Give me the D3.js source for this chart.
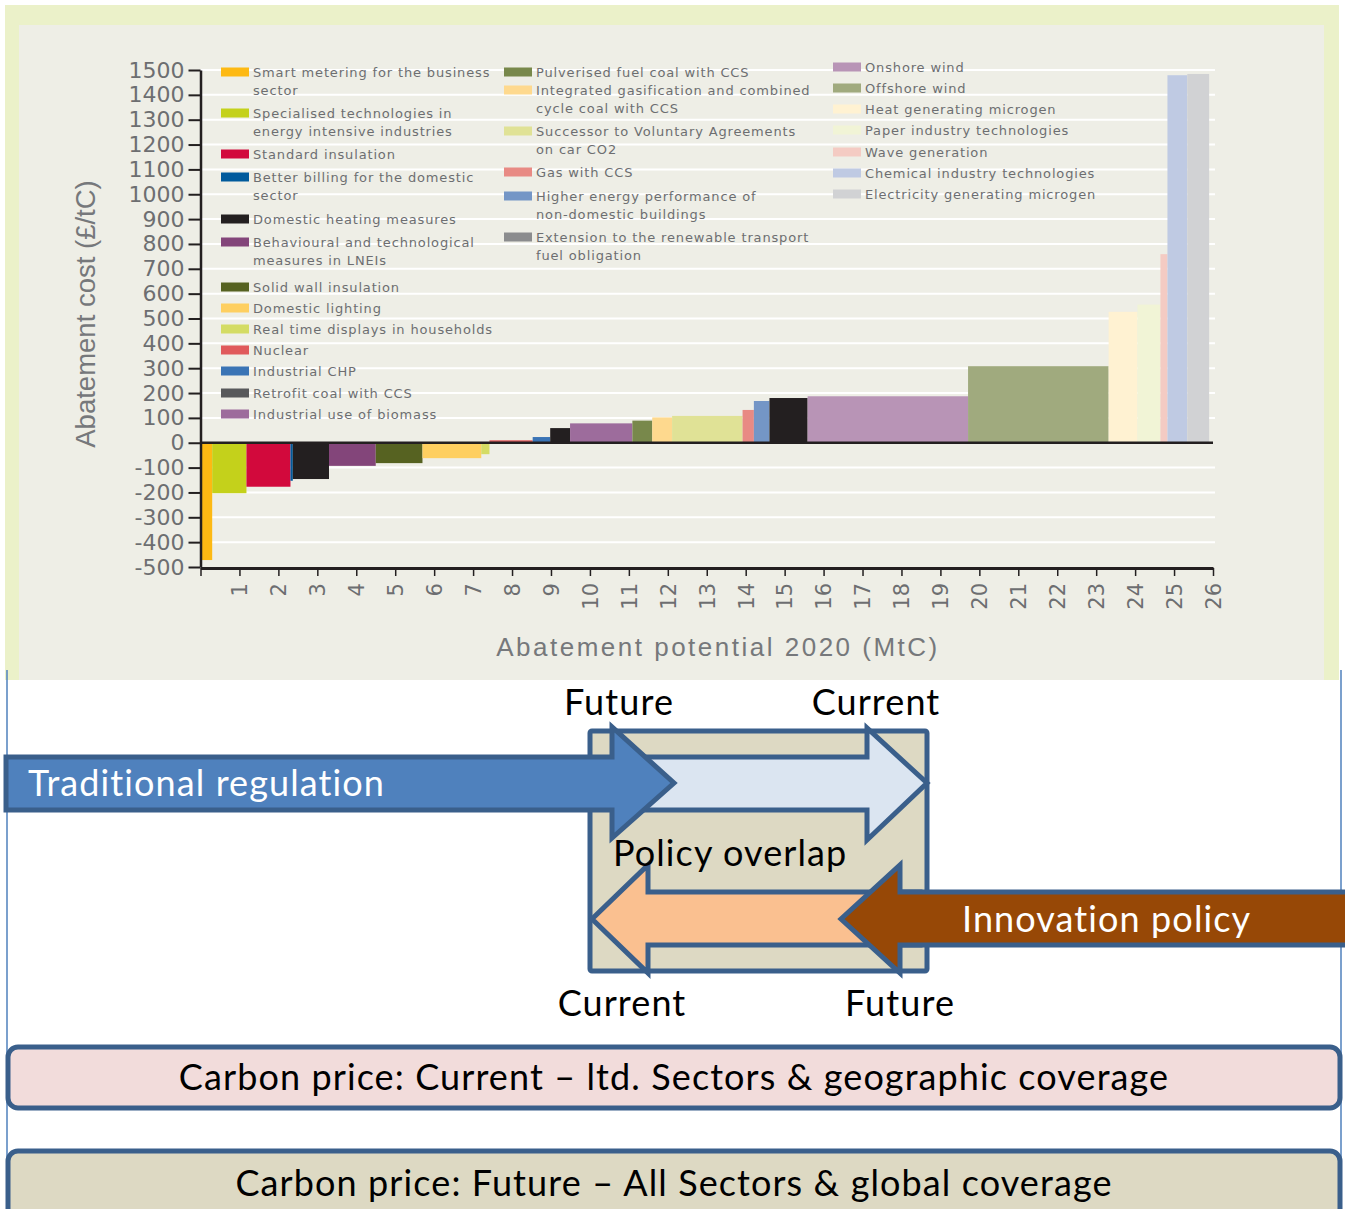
<!DOCTYPE html>
<html>
<head>
<meta charset="utf-8">
<script src="https://cdn.jsdelivr.net/npm/d3@7/dist/d3.min.js"></script>
<style>
  body { margin: 0; background: #fff; }
  svg { display: block; }
</style>
</head>
<body>
<svg id="chart" width="1345" height="1209"></svg>
<script>
// measures, in order along the curve
const categories = [
  "Smart metering for the business\nsector",
  "Specialised technologies in\nenergy intensive industries",
  "Standard insulation",
  "Better billing for the domestic\nsector",
  "Domestic heating measures",
  "Behavioural and technological\nmeasures in LNEIs",
  "Solid wall insulation",
  "Domestic lighting",
  "Real time displays in households",
  "Nuclear",
  "Industrial CHP",
  "Retrofit coal with CCS",
  "Industrial use of biomass",
  "Pulverised fuel coal with CCS",
  "Integrated gasification and combined\ncycle coal with CCS",
  "Successor to Voluntary Agreements\non car CO2",
  "Gas with CCS",
  "Higher energy performance of\nnon-domestic buildings",
  "Extension to the renewable transport\nfuel obligation",
  "Onshore wind",
  "Offshore wind",
  "Heat generating microgen",
  "Paper industry technologies",
  "Wave generation",
  "Chemical industry technologies",
  "Electricity generating microgen"
];

// abatement potential 2020 (MtC) = bar width
const potential = [0.30, 0.88, 1.13, 0.06, 0.93, 1.20, 1.20, 1.51, 0.21, 1.11, 0.45, 0.51, 1.60,
  0.51, 0.51, 1.81, 0.29, 0.40, 0.98, 4.12, 3.61, 0.74, 0.59, 0.18, 0.51, 0.56];

// abatement cost (£/tC) = bar height
const cost = [-472, -203, -177, -153, -146, -93, -82, -62, -46, 10, 23, 59, 78,
  89, 102, 108, 132, 168, 180, 187, 308, 527, 556, 759, 1479, 1484];

const yTicks = d3.range(-500, 1501, 100);
const xTicks = d3.range(0, 27);

const legendColors = ["#fdb913", "#c4d11b", "#d2093c", "#005a9c", "#231f20", "#83457a", "#566221",
  "#fecf60", "#d4dc64", "#e05a5c", "#3a74b5", "#58595b", "#9d6c9c", "#78884b", "#fed98e", "#e0e296",
  "#e88a84", "#7496c6", "#8b8c8e", "#b894b6", "#a0aa7e", "#fff2d2", "#f1f4d6", "#f4cbc3", "#bfcae3", "#d1d2d4"];
// the printed bars use black for two of the greys
const barColors = legendColors.map((c, i) => (i === 11 || i === 18) ? "#231f20" : c);

const svg = d3.select("#chart");
const grey = "#6d6e71";
const dark = "#231f20";

// panels
svg.append("rect").attr("x", 5).attr("y", 5).attr("width", 1334).attr("height", 675).attr("fill", "#ebf1c9");
svg.append("rect").attr("x", 19).attr("y", 25).attr("width", 1305).attr("height", 655).attr("fill", "#eeeee6");

const x = d3.scaleLinear().domain([0, 26]).range([200.5, 1213]);
const y = d3.scaleLinear().domain([-500, 1500]).range([567, 70]);

// gridlines
svg.append("g")
  .selectAll("line")
  .data(yTicks.filter(d => d !== 0 && d !== -500))
  .join("line")
  .attr("x1", x(0)).attr("x2", 1215)
  .attr("y1", d => y(d)).attr("y2", d => y(d))
  .attr("stroke", "#fff").attr("stroke-width", 2);

// legend
const legendLayout = [
  [221, 72], [221, 113], [221, 154], [221, 177], [221, 219], [221, 242], [221, 287], [221, 308],
  [221, 329], [221, 350], [221, 371], [221, 393], [221, 414],
  [504, 72], [504, 90], [504, 131], [504, 172], [504, 196], [504, 237],
  [833, 67], [833, 88], [833, 109], [833, 130], [833, 152], [833, 173], [833, 194]
];
const legend = svg.append("g").selectAll("g")
  .data(categories)
  .join("g")
  .attr("transform", (d, i) => `translate(${legendLayout[i][0]},${legendLayout[i][1]})`);
legend.append("rect")
  .attr("x", 0).attr("y", -4.5).attr("width", 28).attr("height", 9)
  .attr("fill", (d, i) => legendColors[i]);
legend.append("text")
  .attr("x", 32)
  .attr("font-family", "DejaVu Sans")
  .attr("font-size", 13)
  .attr("letter-spacing", 0.85)
  .attr("fill", grey)
  .selectAll("tspan")
  .data(d => d.split("\n"))
  .join("tspan")
  .attr("x", 32)
  .attr("y", (d, i) => i * 18)
  .attr("dy", "0.35em")
  .text(d => d);

// bars
const ends = d3.cumsum(potential);
svg.append("g")
  .selectAll("rect")
  .data(cost)
  .join("rect")
  .attr("x", (d, i) => x(ends[i] - potential[i]))
  .attr("width", (d, i) => x(ends[i]) - x(ends[i] - potential[i]))
  .attr("y", d => y(Math.max(0, d)))
  .attr("height", d => Math.abs(y(d) - y(0)))
  .attr("fill", (d, i) => barColors[i]);

// zero line
svg.append("line")
  .attr("x1", x(0)).attr("x2", x(26))
  .attr("y1", y(0)).attr("y2", y(0))
  .attr("stroke", dark).attr("stroke-width", 2.5);

// y axis
const yAxis = svg.append("g")
  .attr("transform", `translate(${x(0)},0)`)
  .call(d3.axisLeft(y).tickValues(yTicks).tickSize(12).tickSizeOuter(0).tickPadding(4).tickFormat(d => String(d)));
yAxis.select(".domain").attr("stroke", dark).attr("stroke-width", 2.5);
yAxis.selectAll(".tick line").attr("stroke", dark).attr("stroke-width", 2);
yAxis.selectAll(".tick text")
  .attr("font-family", "DejaVu Sans").attr("font-size", 22).attr("fill", grey);

// x axis
const xAxis = svg.append("g")
  .attr("transform", `translate(0,${y(-500) + 1})`)
  .call(d3.axisBottom(x).tickValues(xTicks).tickSize(8).tickSizeOuter(0).tickFormat(d => d === 0 ? "" : d));
xAxis.select(".domain").attr("stroke", dark).attr("stroke-width", 3);
xAxis.selectAll(".tick line").attr("stroke", dark).attr("stroke-width", 1.5);
xAxis.selectAll(".tick text")
  .attr("font-family", "DejaVu Sans").attr("font-size", 21).attr("fill", grey)
  .attr("text-anchor", "end")
  .attr("transform", "rotate(-90)")
  .attr("x", -15).attr("y", 0).attr("dy", "0.35em");

// axis titles
svg.append("text")
  .attr("transform", "translate(95,314) rotate(-90)")
  .attr("text-anchor", "middle")
  .attr("font-family", "Liberation Sans").attr("font-size", 27.5).attr("fill", "#76787b")
  .text("Abatement cost (£/tC)");
svg.append("text")
  .attr("x", 718).attr("y", 656)
  .attr("text-anchor", "middle")
  .attr("font-family", "Liberation Sans").attr("font-size", 26).attr("letter-spacing", 2.5).attr("fill", "#76787b")
  .text("Abatement potential 2020 (MtC)");

// ---- policy diagram ----
const edge = "#3a5f8b";
const font = "Lato";

svg.append("line").attr("x1", 7).attr("x2", 7).attr("y1", 670).attr("y2", 1209)
  .attr("stroke", "#4f81bd").attr("stroke-width", 1.5);
svg.append("line").attr("x1", 1341).attr("x2", 1341).attr("y1", 670).attr("y2", 1209)
  .attr("stroke", "#4f81bd").attr("stroke-width", 1.5);

svg.append("rect")
  .attr("x", 590).attr("y", 731).attr("width", 337).attr("height", 240).attr("rx", 2)
  .attr("fill", "#ddd9c3").attr("stroke", edge).attr("stroke-width", 5);

const arrow = pts => "M" + pts.map(p => p.join(",")).join("L") + "Z";
const arrows = [
  { pts: [[620, 757], [867, 757], [867, 728], [927, 783], [867, 840], [867, 810], [620, 810]], fill: "#dbe5f1" },
  { pts: [[6, 757], [612, 757], [612, 727], [674, 783], [612, 838], [612, 810], [6, 810]], fill: "#4f81bd" },
  { pts: [[920, 892], [648, 892], [648, 865], [592, 919], [648, 973], [648, 945], [920, 945]], fill: "#fac090" },
  { pts: [[1350, 892], [900, 892], [900, 865], [841, 919], [900, 973], [900, 945], [1350, 945]], fill: "#974806" }
];
svg.append("g").selectAll("path")
  .data(arrows)
  .join("path")
  .attr("d", d => arrow(d.pts))
  .attr("fill", d => d.fill)
  .attr("stroke", edge).attr("stroke-width", 5).attr("stroke-linejoin", "miter");

const labels = [
  { text: "Future", x: 619, y: 715, anchor: "middle", fill: "#000" },
  { text: "Current", x: 876, y: 715, anchor: "middle", fill: "#000" },
  { text: "Traditional regulation", x: 28, y: 796, anchor: "start", fill: "#fff" },
  { text: "Policy overlap", x: 613, y: 866, anchor: "start", fill: "#000" },
  { text: "Innovation policy", x: 962, y: 932, anchor: "start", fill: "#fff" },
  { text: "Current", x: 622, y: 1016, anchor: "middle", fill: "#000" },
  { text: "Future", x: 900, y: 1016, anchor: "middle", fill: "#000" }
];
svg.append("g").selectAll("text")
  .data(labels)
  .join("text")
  .attr("x", d => d.x).attr("y", d => d.y)
  .attr("text-anchor", d => d.anchor)
  .attr("font-family", font).attr("font-size", 36).attr("letter-spacing", 1.1)
  .attr("fill", d => d.fill)
  .text(d => d.text);

const bands = [
  { text: "Carbon price: Current \u2013 ltd. Sectors & geographic coverage", y: 1047, h: 61, fill: "#f2dcdb", ty: 1090 },
  { text: "Carbon price: Future \u2013 All Sectors & global coverage", y: 1151, h: 75, fill: "#ddd9c3", ty: 1196 }
];
const band = svg.append("g").selectAll("g").data(bands).join("g");
band.append("rect")
  .attr("x", 8).attr("y", d => d.y).attr("width", 1332).attr("height", d => d.h).attr("rx", 10)
  .attr("fill", d => d.fill).attr("stroke", edge).attr("stroke-width", 5);
band.append("text")
  .attr("x", 674).attr("y", d => d.ty)
  .attr("text-anchor", "middle")
  .attr("font-family", font).attr("font-size", 36).attr("letter-spacing", 1.1).attr("fill", "#000")
  .text(d => d.text);
</script>
</body>
</html>
